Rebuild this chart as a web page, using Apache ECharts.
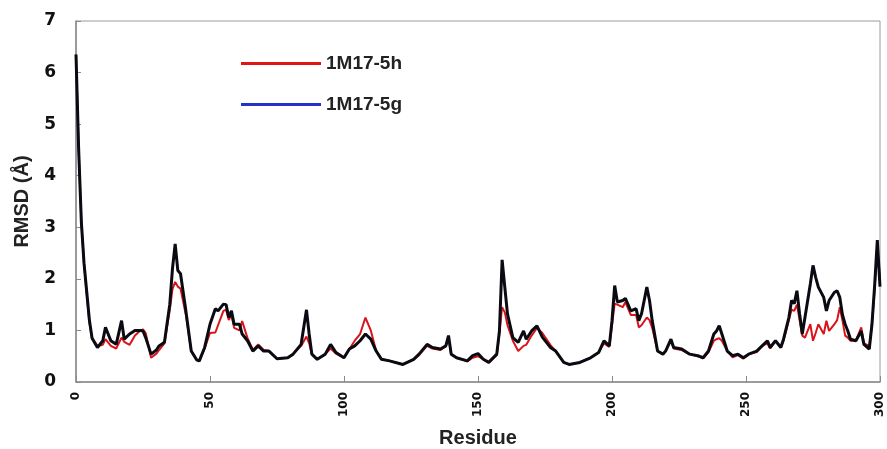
<!DOCTYPE html>
<html>
<head>
<meta charset="utf-8">
<script src="https://cdn.jsdelivr.net/npm/echarts@6/dist/echarts.min.js"></script>
<style>
html,body{margin:0;padding:0;background:#fff;}
#chart{width:887px;height:449px;}
</style>
</head>
<body>
<div id="chart"></div>
<script>
const residues = [0,1,2,3,4,5,6,8,10,11,13,15,17,18,20,22,24,25,26,28,30,31,33,35,36,37,38,39,41,43,45,46,48,50,52,53,55,56,57,58,59,61,62,64,66,68,70,72,75,79,81,84,86,87,88,90,93,95,97,100,102,104,106,108,110,112,114,117,122,126,128,131,133,136,138,139,140,142,146,148,150,152,154,157,158,159,160,161,163,165,167,168,170,172,174,177,179,182,184,188,192,195,197,199,200,201,202,204,205,207,209,210,211,213,214,215,217,219,220,222,223,226,229,232,234,236,238,239,240,241,243,245,247,249,251,254,256,258,259,261,263,264,266,267,268,269,270,271,272,274,275,276,277,279,280,281,283,284,285,286,287,288,289,291,293,294,296,297,298,299,300];

const rmsd5g = [6.35,4.5,3.1,2.3,1.75,1.2,0.85,0.67,0.8,1.06,0.8,0.73,1.19,0.83,0.93,1.0,1.0,0.99,0.86,0.54,0.62,0.7,0.77,1.51,2.2,2.68,2.16,2.1,1.38,0.6,0.43,0.41,0.67,1.12,1.42,1.38,1.51,1.5,1.25,1.38,1.12,1.12,0.93,0.8,0.6,0.7,0.6,0.6,0.45,0.47,0.54,0.73,1.4,0.93,0.54,0.44,0.54,0.73,0.57,0.47,0.64,0.7,0.8,0.93,0.83,0.6,0.44,0.41,0.34,0.44,0.54,0.73,0.67,0.64,0.7,0.9,0.54,0.47,0.41,0.51,0.55,0.44,0.38,0.54,0.99,2.37,1.84,1.32,0.86,0.77,0.99,0.83,0.99,1.09,0.87,0.67,0.6,0.38,0.34,0.38,0.47,0.57,0.8,0.7,1.19,1.87,1.55,1.58,1.62,1.38,1.42,1.19,1.32,1.84,1.58,1.19,0.6,0.54,0.6,0.83,0.67,0.64,0.54,0.51,0.47,0.6,0.93,0.99,1.09,0.93,0.6,0.51,0.54,0.47,0.54,0.6,0.7,0.8,0.67,0.8,0.67,0.83,1.25,1.58,1.52,1.77,1.32,0.93,1.25,1.9,2.26,2.03,1.84,1.64,1.38,1.58,1.74,1.77,1.64,1.3,1.12,0.99,0.83,0.8,0.99,0.73,0.64,1.12,1.87,2.75,1.85];

const rmsd5h = [6.35,4.5,3.1,2.3,1.7,1.15,0.85,0.7,0.72,0.83,0.7,0.65,0.86,0.78,0.72,0.9,1.0,1.02,0.95,0.47,0.55,0.62,0.75,1.4,1.8,1.94,1.85,1.81,1.3,0.6,0.43,0.4,0.65,0.95,0.96,1.1,1.38,1.4,1.2,1.3,1.05,1.0,1.18,0.85,0.62,0.73,0.62,0.6,0.45,0.47,0.54,0.7,0.88,0.75,0.54,0.44,0.54,0.65,0.55,0.47,0.64,0.8,0.93,1.25,1.0,0.6,0.44,0.41,0.34,0.44,0.52,0.7,0.65,0.62,0.7,0.85,0.54,0.47,0.4,0.47,0.5,0.44,0.38,0.52,0.95,1.45,1.35,1.1,0.8,0.6,0.7,0.72,0.9,1.05,0.95,0.72,0.6,0.38,0.34,0.38,0.47,0.57,0.75,0.68,1.1,1.52,1.5,1.45,1.55,1.3,1.3,1.06,1.1,1.25,1.2,1.05,0.6,0.54,0.6,0.8,0.65,0.62,0.54,0.5,0.46,0.58,0.8,0.83,0.85,0.8,0.6,0.48,0.52,0.45,0.54,0.58,0.7,0.75,0.65,0.8,0.67,0.8,1.2,1.4,1.38,1.5,1.2,0.9,0.86,1.12,0.8,0.95,1.12,0.93,1.19,0.99,1.12,1.2,1.45,1.19,0.9,0.86,0.8,0.8,1.06,0.75,0.7,1.1,1.8,2.6,2.0];

const xTicks = [0,50,100,150,200,250,300];
const yTicks = [0,1,2,3,4,5,6,7];

const seriesNames = ['1M17-5h','1M17-5g'];

const chart = echarts.init(document.getElementById('chart'), null, {renderer:'canvas'});
const toPairs = (xs, ys) => xs.map((x, i) => [x, ys[i]]);

chart.setOption({
  backgroundColor: '#ffffff',
  animation: false,
  grid: {left: 76, right: 7, top: 21, bottom: 67, containLabel: false, outerBoundsMode: 'none', show: true, borderColor: '#9a9a9a', borderWidth: 1, backgroundColor: 'transparent'},
  legend: {
    orient: 'vertical', left: 236, top: 49, itemWidth: 80, itemHeight: 3, itemGap: 22,
    icon: 'rect',
    textStyle: {fontFamily: 'Liberation Sans, Arial, sans-serif', fontWeight: 'bold', fontSize: 19, color: '#222'},
    data: [
      {name: seriesNames[0], itemStyle: {color: '#e31414'}},
      {name: seriesNames[1], itemStyle: {color: '#2533c4'}}
    ]
  },
  xAxis: {
    type: 'value', min: xTicks[0], max: xTicks[xTicks.length-1], interval: 50,
    name: 'Residue', nameLocation: 'middle', nameGap: 46,
    nameTextStyle: {fontFamily: 'Liberation Sans, Arial, sans-serif', fontWeight: 'bold', fontSize: 20, color: '#222'},
    axisLine: {show: true, lineStyle: {color: '#8a8a8a', width: 1.5}},
    axisTick: {show: true, inside: true, length: 6, lineStyle: {color: '#8a8a8a'}},
    axisLabel: {rotate: 90, margin: 10, fontFamily: 'DejaVu Sans, sans-serif', fontWeight: 'bold', fontSize: 12, color: '#111'},
    splitLine: {show: false}
  },
  yAxis: {
    type: 'value', min: yTicks[0], max: yTicks[yTicks.length-1], interval: 1,
    name: 'RMSD (Å)', nameLocation: 'middle', nameGap: 44,
    nameTextStyle: {fontFamily: 'Liberation Sans, Arial, sans-serif', fontWeight: 'bold', fontSize: 20, color: '#222'},
    axisLine: {show: true, lineStyle: {color: '#8a8a8a', width: 1.5}},
    axisTick: {show: true, inside: true, length: 5, lineStyle: {color: '#8a8a8a'}},
    axisLabel: {margin: 20, fontFamily: 'DejaVu Sans, sans-serif', fontWeight: 'bold', fontSize: 17, color: '#111'},
    splitLine: {show: false}
  },
  series: [
    {name: seriesNames[0], type: 'line', data: toPairs(residues, rmsd5h), showSymbol: false, symbol: 'none',
     lineStyle: {color: '#d8141a', width: 2}, itemStyle: {color: '#e31414'}, z: 2},
    {name: seriesNames[1], type: 'line', data: toPairs(residues, rmsd5g), showSymbol: false, symbol: 'none',
     lineStyle: {color: '#0a0a12', width: 3}, itemStyle: {color: '#2533c4'}, z: 3}
  ]
});
</script>
</body>
</html>
